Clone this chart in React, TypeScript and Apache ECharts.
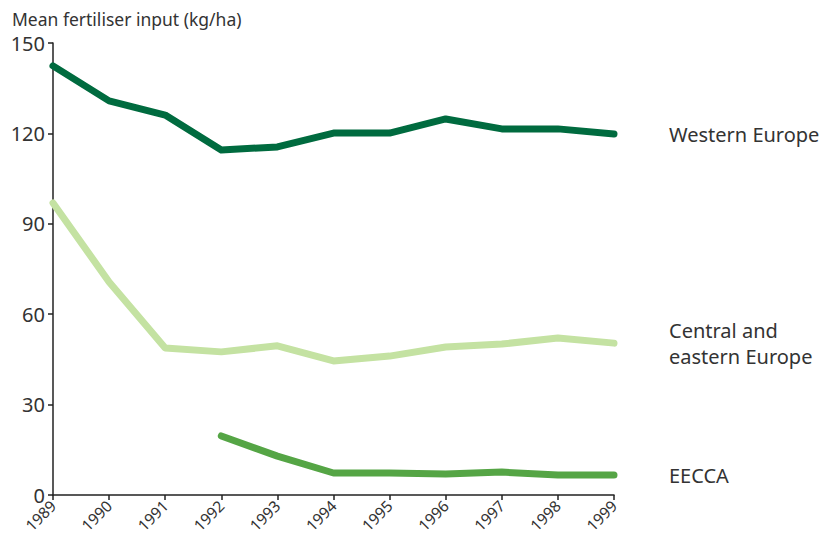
import React, { useEffect, useRef } from "react";
import * as echarts from "echarts";

const years = ["1989", "1990", "1991", "1992", "1993", "1994", "1995", "1996", "1997", "1998", "1999"];
const western = [142.4, 130.8, 126.1, 114.5, 115.5, 120.1, 120.1, 124.8, 121.5, 121.5, 119.8];
const central = [96.9, 70.7, 48.8, 47.5, 49.5, 44.5, 46.1, 49.1, 50.1, 52.1, 50.4];
const eecca = [null, null, null, 19.6, 12.9, 7.3, 7.3, 7.0, 7.6, 6.6, 6.6];
const seriesNames = ["Western Europe", "Central and\neastern Europe", "EECCA"];
const yTicks = [0, 30, 60, 90, 120, 150];

const FONT = "'Noto Sans', 'Open Sans', sans-serif";

export default function App() {
  const ref = useRef<HTMLDivElement>(null);
  useEffect(() => {
    const chart = echarts.init(ref.current!, null, { renderer: "svg" });
    const mk = (name: string, data: any[], color: string) => ({
      type: "line",
      name,
      data,
      symbol: "none",
      connectNulls: false,
      lineStyle: { color, width: 7, cap: "round", join: "round" },
      endLabel: {
        show: true,
        formatter: name,
        distance: 55,
        color: "#333",
        fontSize: 20,
        fontFamily: FONT,
        lineHeight: 26,
        align: "left",
      },
    });
    chart.setOption({
      animation: false,
      grid: { left: 53, right: 211, top: 43, bottom: 45, containLabel: false, outerBoundsMode: "none" },
      graphic: [
        {
          type: "text",
          left: 12,
          top: 10,
          style: { text: "Mean fertiliser input (kg/ha)", fill: "#333", fontSize: 17.5, fontFamily: FONT },
        },
      ],
      xAxis: {
        type: "category",
        data: years,
        boundaryGap: false,
        axisLine: { lineStyle: { color: "#222", width: 1.5 } },
        axisTick: { alignWithLabel: true, length: 5, lineStyle: { color: "#222", width: 1.5 } },
        axisLabel: { rotate: 45, color: "#333", fontSize: 15.5, fontFamily: FONT, margin: 8, interval: 0 },
      },
      yAxis: {
        type: "value",
        min: yTicks[0],
        max: yTicks[yTicks.length - 1],
        interval: 30,
        splitLine: { show: false },
        axisLine: { show: true, lineStyle: { color: "#222", width: 1.5 } },
        axisTick: { show: true, length: 5, lineStyle: { color: "#222", width: 1.5 } },
        axisLabel: { color: "#333", fontSize: 20, fontFamily: FONT, margin: 8 },
      },
      series: [
        mk(seriesNames[0], western, "#006b3f"),
        mk(seriesNames[1], central, "#c4e2a2"),
        mk(seriesNames[2], eecca, "#55a545"),
      ],
    });
    return () => chart.dispose();
  }, []);
  return <div ref={ref} style={{ width: 825, height: 540, position: "absolute", left: 0, top: 0 }} />;
}
